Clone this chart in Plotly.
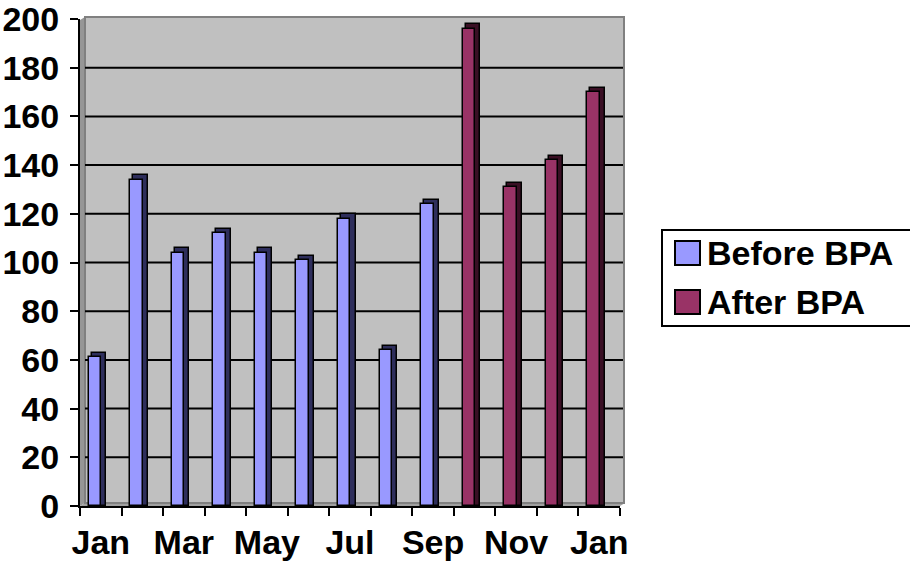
import plotly.graph_objects as go

# ---- data ----
months = ["Jan", "Feb", "Mar", "Apr", "May", "Jun", "Jul", "Aug", "Sep",
          "Oct", "Nov", "Dec", "Jan"]
series_names = ["Before BPA", "After BPA"]
before_values = [61, 134, 104, 112, 104, 101, 118, 64, 124]
after_values = [196, 131, 142, 170]
y_tick_values = [0, 20, 40, 60, 80, 100, 120, 140, 160, 180, 200]
x_label_positions = [0, 2, 4, 6, 8, 10, 12]

front_colors = ["#9999FF", "#993366"]
side_colors = ["#2E2E5C", "#3A0F24"]

FONT = "Liberation Sans, Arial"
FS = 34

# ---- geometry helpers (pixel -> paper) ----
L, R, T, B = 80, 620, 19, 506
W, H = R - L, B - T


def px(x):
    return (x - L) / W


def py(y):
    return (B - y) / H


def path(points):
    return "M " + " L ".join(f"{px(a):.5f},{py(b):.5f}" for a, b in points) + " Z"


before_x = list(range(len(before_values)))
after_x = list(range(len(before_values), len(before_values) + len(after_values)))

fig = go.Figure()
TOP_DEPTH = 1.8
for xs, vals, sc in [(before_x, before_values, side_colors[0]),
                     (after_x, after_values, side_colors[1])]:
    fig.add_trace(go.Bar(x=xs, y=[v + TOP_DEPTH for v in vals], width=0.35, offset=-0.217,
                         marker=dict(color=sc, line=dict(color="black", width=1.5)),
                         showlegend=False, hoverinfo="skip"))
for xs, vals, fc, name in [(before_x, before_values, front_colors[0], series_names[0]),
                           (after_x, after_values, front_colors[1], series_names[1])]:
    fig.add_trace(go.Bar(x=xs, y=vals, width=0.30, offset=-0.289, name=name,
                         marker=dict(color=fc, line=dict(color="black", width=1.5)),
                         showlegend=False))

shapes = []
# left wall
shapes.append(dict(type="path", xref="paper", yref="paper", layer="below",
                   path=path([(80, 506), (80, 20), (85, 17), (85, 503)]),
                   fillcolor="#969696", line=dict(width=0)))
# floor
shapes.append(dict(type="path", xref="paper", yref="paper", layer="below",
                   path=path([(80, 506), (620, 506), (625, 503), (85, 503)]),
                   fillcolor="#A0A0A0", line=dict(width=0)))
# back wall
shapes.append(dict(type="rect", xref="paper", yref="paper", layer="below",
                   x0=px(85), x1=px(624), y0=py(503), y1=py(17),
                   fillcolor="#C0C0C0", line=dict(color="#808080", width=2)))
# gridlines on back wall
for v in y_tick_values[1:-1]:
    shapes.append(dict(type="line", xref="paper", yref="y", layer="between",
                       x0=px(85), x1=px(623), y0=v, y1=v,
                       line=dict(color="black", width=2)))

# custom legend
shapes.append(dict(type="rect", xref="paper", yref="paper",
                   x0=px(662), x1=px(930), y0=py(326), y1=py(230),
                   fillcolor="white", line=dict(color="black", width=2), layer="below"))
annotations = []
row_centers = [253, 302]
for name, fc, cy in zip(series_names, front_colors, row_centers):
    shapes.append(dict(type="rect", xref="paper", yref="paper",
                       x0=px(675), x1=px(700), y0=py(cy + 12), y1=py(cy - 12),
                       fillcolor=fc, line=dict(color="black", width=2)))
    annotations.append(dict(x=px(705), y=py(cy), xref="paper", yref="paper",
                            text=name, showarrow=False, xanchor="left", yanchor="middle",
                            font=dict(family=FONT, size=FS, color="black", weight="bold")))

fig.update_layout(
    width=910, height=565,
    margin=dict(l=L, r=910 - R, t=T, b=565 - B, autoexpand=False),
    paper_bgcolor="white", plot_bgcolor="rgba(0,0,0,0)",
    barmode="overlay", bargap=0,
    showlegend=False,
    shapes=shapes, annotations=annotations,
    font=dict(family=FONT, size=FS, color="black", weight="bold"),
    xaxis=dict(range=[-0.5, 12.5], tickvals=x_label_positions,
               ticktext=[months[i] for i in x_label_positions],
               ticks="", showline=True, linecolor="black", linewidth=2,
               showgrid=False, zeroline=False, ticklabelstandoff=5, automargin=False,
               ticklabeloverflow="allow",
               tickfont=dict(family=FONT, size=FS, weight="bold"),
               minor=dict(ticks="outside", tick0=-0.5, dtick=1, ticklen=8,
                          tickwidth=2, tickcolor="black", showgrid=False)),
    yaxis=dict(range=[0, 200], tickvals=y_tick_values, ticks="outside", ticklen=8,
               tickwidth=2, tickcolor="black", showline=True, linecolor="black",
               linewidth=2, showgrid=False, zeroline=False, ticklabelstandoff=4,
               automargin=False, ticklabeloverflow="allow",
               tickfont=dict(family=FONT, size=FS, weight="bold")),
)

fig.write_html("out.html")
